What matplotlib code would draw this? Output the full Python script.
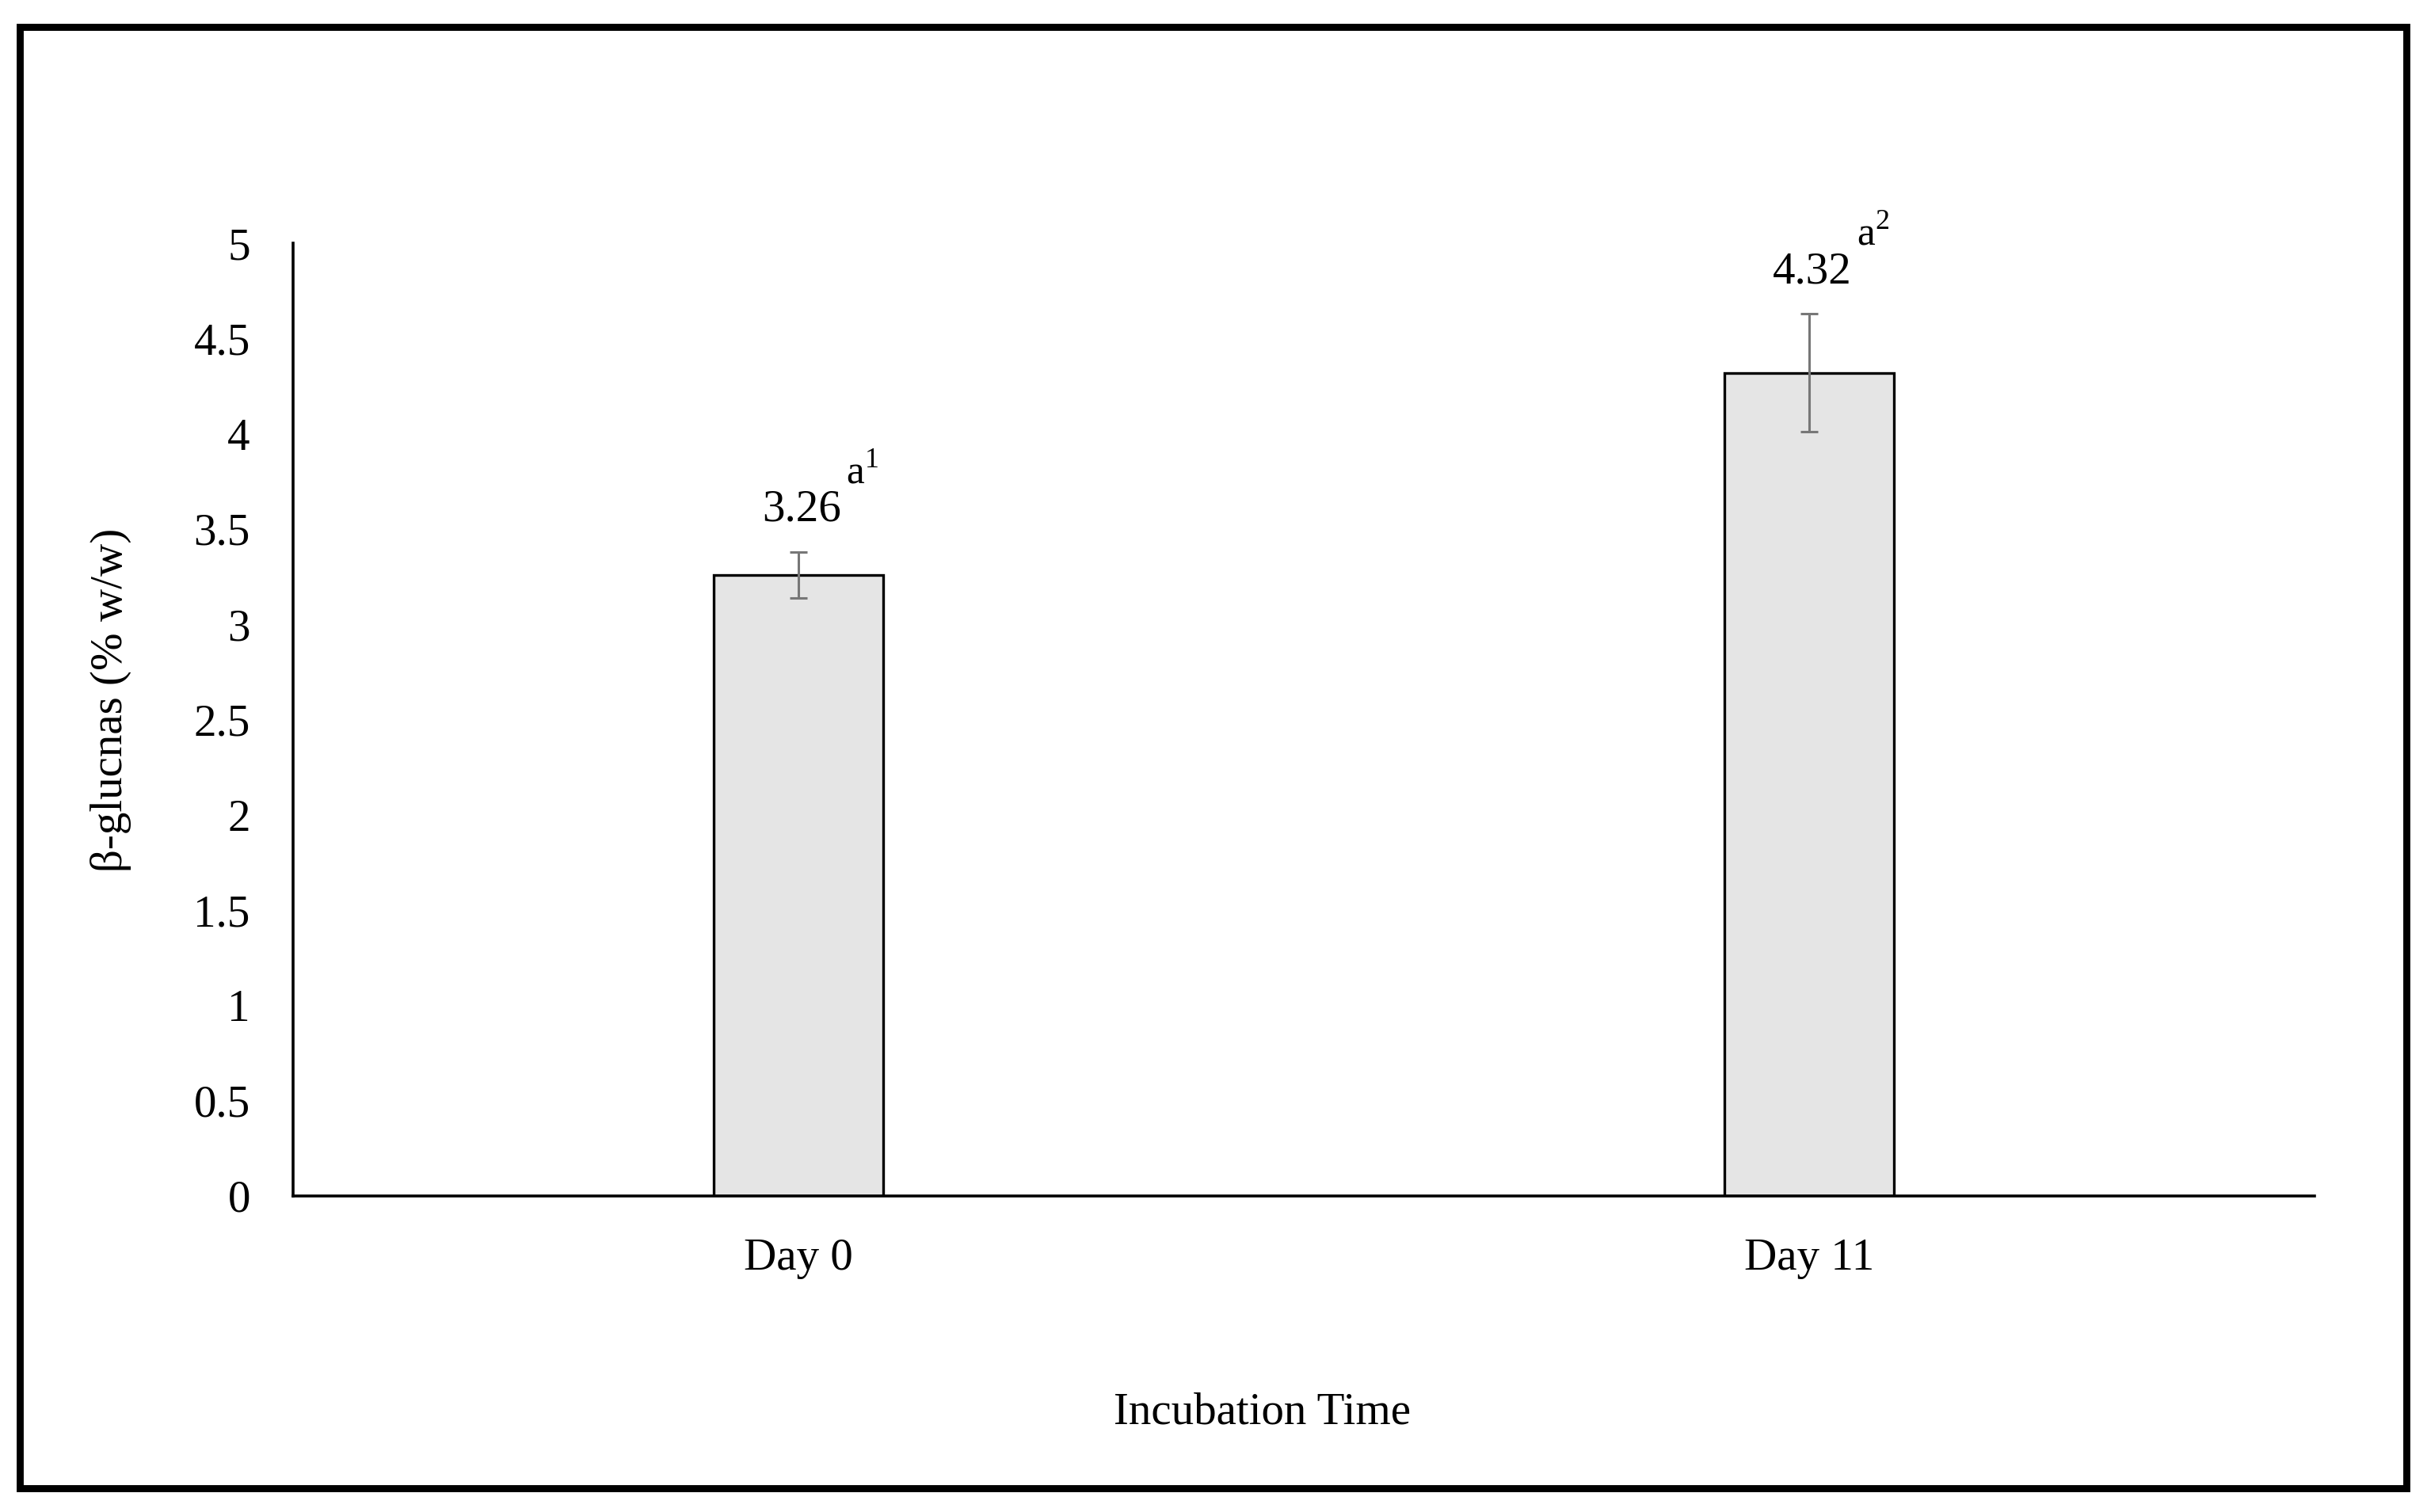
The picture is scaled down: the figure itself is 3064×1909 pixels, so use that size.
import matplotlib
matplotlib.use("Agg")
import matplotlib.pyplot as plt
from matplotlib.patches import Rectangle

# data
days = ["Day 0", "Day 11"]
glucans = [3.26, 4.32]
errors = [0.12, 0.31]
value_labels = ["3.26", "4.32"]
letters = ["a", "a"]
groups = ["1", "2"]
yticks = [0, 0.5, 1, 1.5, 2, 2.5, 3, 3.5, 4, 4.5, 5]

plt.rcParams["font.family"] = ["Liberation Serif", "DejaVu Serif"]
plt.rcParams["mathtext.fontset"] = "custom"
plt.rcParams["mathtext.rm"] = "Liberation Serif"

W, H = 3064, 1909
dpi = 200
fig = plt.figure(figsize=(W / dpi, H / dpi), dpi=dpi)

ax = fig.add_axes([370 / W, 1 - 1510 / H, (2922 - 370) / W, (1510 - 307) / H])

x = list(range(len(days)))
ax.bar(x, glucans, width=0.167, color="#e5e5e5", edgecolor="black", linewidth=1.2, zorder=2)
ax.errorbar(x, glucans, yerr=errors, fmt="none", ecolor="#777777", elinewidth=1.1,
            capsize=4, capthick=1.1, zorder=3)

# value label plus significance letter with superscript group
for xi, v, e, lab, let, g in zip(x, glucans, errors, value_labels, letters, groups):
    ax.annotate(lab, xy=(xi, v + e), xytext=(1.5, 14), textcoords="offset points",
                ha="center", va="baseline", fontsize=20.5)
    ax.annotate(let + r"$^{" + g + "}$", xy=(xi, v + e), xytext=(21.6, 31), textcoords="offset points",
                ha="left", va="baseline", fontsize=18.5)

ax.set_xlim(-0.5, 1.5)
ax.set_ylim(0, 5)
ax.set_xticks(x)
ax.set_xticklabels(days, fontsize=20.5)
ax.set_yticks(yticks)
ax.set_yticklabels([f"{t:g}" for t in yticks], fontsize=20.5)
ax.tick_params(axis="y", length=0, pad=19.5)
ax.tick_params(axis="x", length=0, pad=19)

for side in ["top", "right"]:
    ax.spines[side].set_visible(False)
for side in ["left", "bottom"]:
    ax.spines[side].set_linewidth(1.3)
    ax.spines[side].set_color("black")

fig.text(140 / W, 1 - 884 / H, "β-glucnas (% w/w)", rotation=90, ha="center", va="center", fontsize=20.5)
fig.text(1594 / W, 1 - 1797 / H, "Incubation Time", ha="center", va="baseline", fontsize=20.5)

# outer frame around the whole figure
fig.patches.append(Rectangle((24.5 / W, 1 - 1879 / H), (3038 - 24.5) / W, (1879 - 33.5) / H,
                             transform=fig.transFigure, fill=False, edgecolor="black", linewidth=3.2))

plt.savefig("out.png", dpi=dpi)
plt.close()
